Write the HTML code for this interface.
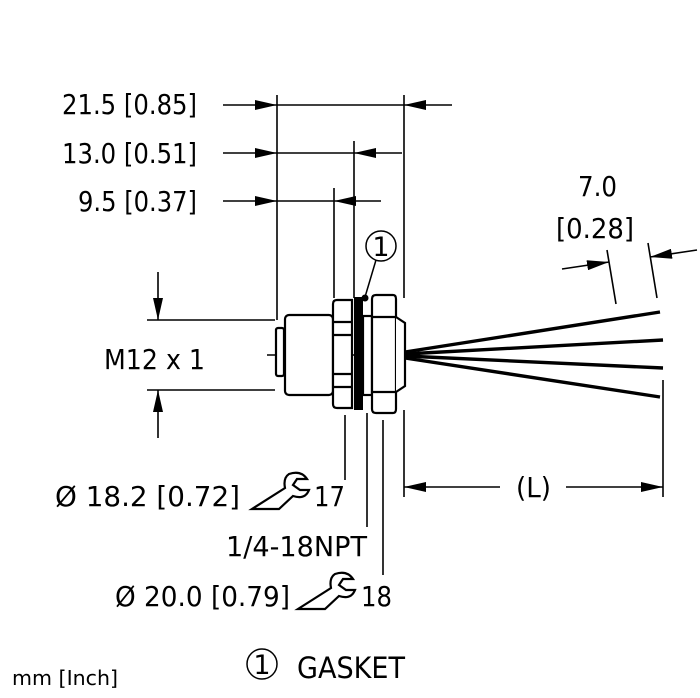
<!DOCTYPE html>
<html><head><meta charset="utf-8"><style>
html,body{margin:0;padding:0;background:#fff;}
svg{display:block;}
text{font-family:"DejaVu Sans","Liberation Sans",sans-serif;fill:#000;}
</style></head><body>
<svg width="700" height="698" viewBox="0 0 700 698" xmlns="http://www.w3.org/2000/svg">
<defs>
<marker id="a" markerWidth="22" markerHeight="10" refX="22" refY="5" orient="auto" markerUnits="userSpaceOnUse">
<path d="M0,0 L22,5 L0,10 Z" fill="#000"/></marker>
</defs>
<g stroke="#000" stroke-width="1.6" fill="none">
<line x1="277" y1="95" x2="277" y2="320"/>
<line x1="404" y1="95" x2="404" y2="298"/>
<line x1="354" y1="141" x2="354" y2="298"/>
<line x1="334" y1="188" x2="334" y2="298"/>
<line x1="223" y1="105" x2="277" y2="105" marker-end="url(#a)"/>
<line x1="277" y1="105" x2="404" y2="105"/>
<line x1="452" y1="105" x2="404" y2="105" marker-end="url(#a)"/>
<line x1="223" y1="153" x2="277" y2="153" marker-end="url(#a)"/>
<line x1="277" y1="153" x2="354" y2="153"/>
<line x1="402" y1="153" x2="354" y2="153" marker-end="url(#a)"/>
<line x1="223" y1="201" x2="277" y2="201" marker-end="url(#a)"/>
<line x1="277" y1="201" x2="334" y2="201"/>
<line x1="381" y1="201" x2="334" y2="201" marker-end="url(#a)"/>
<line x1="147" y1="320" x2="275" y2="320"/>
<line x1="147" y1="390" x2="275" y2="390"/>
<line x1="158" y1="272" x2="158" y2="320" marker-end="url(#a)"/>
<line x1="158" y1="438" x2="158" y2="390" marker-end="url(#a)"/>
<line x1="345" y1="415" x2="345" y2="480"/>
<line x1="367" y1="413" x2="367" y2="527"/>
<line x1="383" y1="420" x2="383" y2="575"/>
<line x1="404" y1="410" x2="404" y2="497"/>
<line x1="663" y1="380" x2="663" y2="497"/>
<line x1="500" y1="487" x2="404" y2="487" marker-end="url(#a)"/>
<line x1="566" y1="487" x2="663" y2="487" marker-end="url(#a)"/>
<line x1="607" y1="250" x2="616" y2="304"/>
<line x1="648" y1="243" x2="657" y2="298"/>
<line x1="562" y1="269" x2="609" y2="262" marker-end="url(#a)"/>
<line x1="697" y1="250" x2="650" y2="257" marker-end="url(#a)"/>
<line x1="267" y1="355" x2="420" y2="355" stroke-dasharray="22,5,6,5"/>
</g>
<g stroke="#000" stroke-width="2.2" fill="#fff">
<rect x="276" y="328" width="8" height="48" rx="2"/>
<rect x="285" y="315" width="48" height="80" rx="4"/>
<path d="M337,300 H352 V408 H337 Q333,408 333,404 V304 Q333,300 337,300 Z"/>
<line x1="333" y1="322" x2="352" y2="322"/>
<line x1="333" y1="335" x2="352" y2="335"/>
<line x1="333" y1="374" x2="352" y2="374"/>
<line x1="333" y1="387" x2="352" y2="387"/>
<rect x="363" y="316" width="9" height="79"/>
<path d="M376,295 H393 Q396,295 396,299 V409 Q396,413 393,413 H376 Q372,413 372,409 V299 Q372,295 376,295 Z"/>
<line x1="372" y1="317" x2="396" y2="317"/>
<line x1="372" y1="392" x2="396" y2="392"/>
<path d="M396,317 L405,323 V386 L396,392"/>
</g>
<rect x="354" y="297" width="9" height="113" fill="#000"/>
<g stroke="#000" stroke-width="3.4" fill="none">
<line x1="405" y1="352" x2="660" y2="312"/>
<line x1="405" y1="354" x2="663" y2="340"/>
<line x1="405" y1="356" x2="663" y2="368"/>
<line x1="405" y1="358" x2="660" y2="397"/>
</g>
<circle cx="381" cy="246" r="15" fill="#fff" stroke="#000" stroke-width="1.5"/>
<line x1="376" y1="260" x2="365" y2="297" stroke="#000" stroke-width="1.5"/>
<circle cx="365" cy="298" r="3.5" fill="#000"/>
<text x="381" y="256" font-size="27" text-anchor="middle">1</text>
<g font-size="28">
<text x="62" y="114" textLength="135" lengthAdjust="spacingAndGlyphs">21.5 [0.85]</text>
<text x="62" y="163" textLength="135" lengthAdjust="spacingAndGlyphs">13.0 [0.51]</text>
<text x="78" y="211" textLength="119" lengthAdjust="spacingAndGlyphs">9.5 [0.37]</text>
<text x="104" y="369" textLength="101" lengthAdjust="spacingAndGlyphs">M12 x 1</text>
<text x="578" y="196" textLength="39" lengthAdjust="spacingAndGlyphs">7.0</text>
<text x="556" y="238" textLength="78" lengthAdjust="spacingAndGlyphs">[0.28]</text>
<text x="516" y="497" textLength="35" lengthAdjust="spacingAndGlyphs">(L)</text>
<text x="55" y="506" textLength="185" lengthAdjust="spacingAndGlyphs">Ø 18.2 [0.72]</text>
<text x="314" y="506" textLength="31" lengthAdjust="spacingAndGlyphs">17</text>
<text x="226" y="556" textLength="141" lengthAdjust="spacingAndGlyphs">1/4-18NPT</text>
<text x="115" y="606" textLength="175" lengthAdjust="spacingAndGlyphs">Ø 20.0 [0.79]</text>
<text x="361" y="606" textLength="31" lengthAdjust="spacingAndGlyphs">18</text>
<text x="297" y="678" font-size="29" textLength="108" lengthAdjust="spacingAndGlyphs">GASKET</text>
</g>
<text x="12" y="685" font-size="20" textLength="106" lengthAdjust="spacingAndGlyphs">mm [Inch]</text>
<circle cx="262" cy="664" r="15" fill="none" stroke="#000" stroke-width="1.5"/>
<text x="262" y="674" font-size="27" text-anchor="middle">1</text>
<g stroke="#000" stroke-width="2.2" fill="#fff">
<path d="M252,509 L279,509 L293,496 Q305,500 309,490 L300,490 L293,485 L297,479 L307,479 Q301,470 289,474 Q283,478 285,488 Z"/>
<path d="M298,609 L325,609 L339,596 Q351,600 355,590 L346,590 L339,585 L343,579 L353,579 Q347,570 335,574 Q329,578 331,588 Z"/>
</g>
</svg>
</body></html>
